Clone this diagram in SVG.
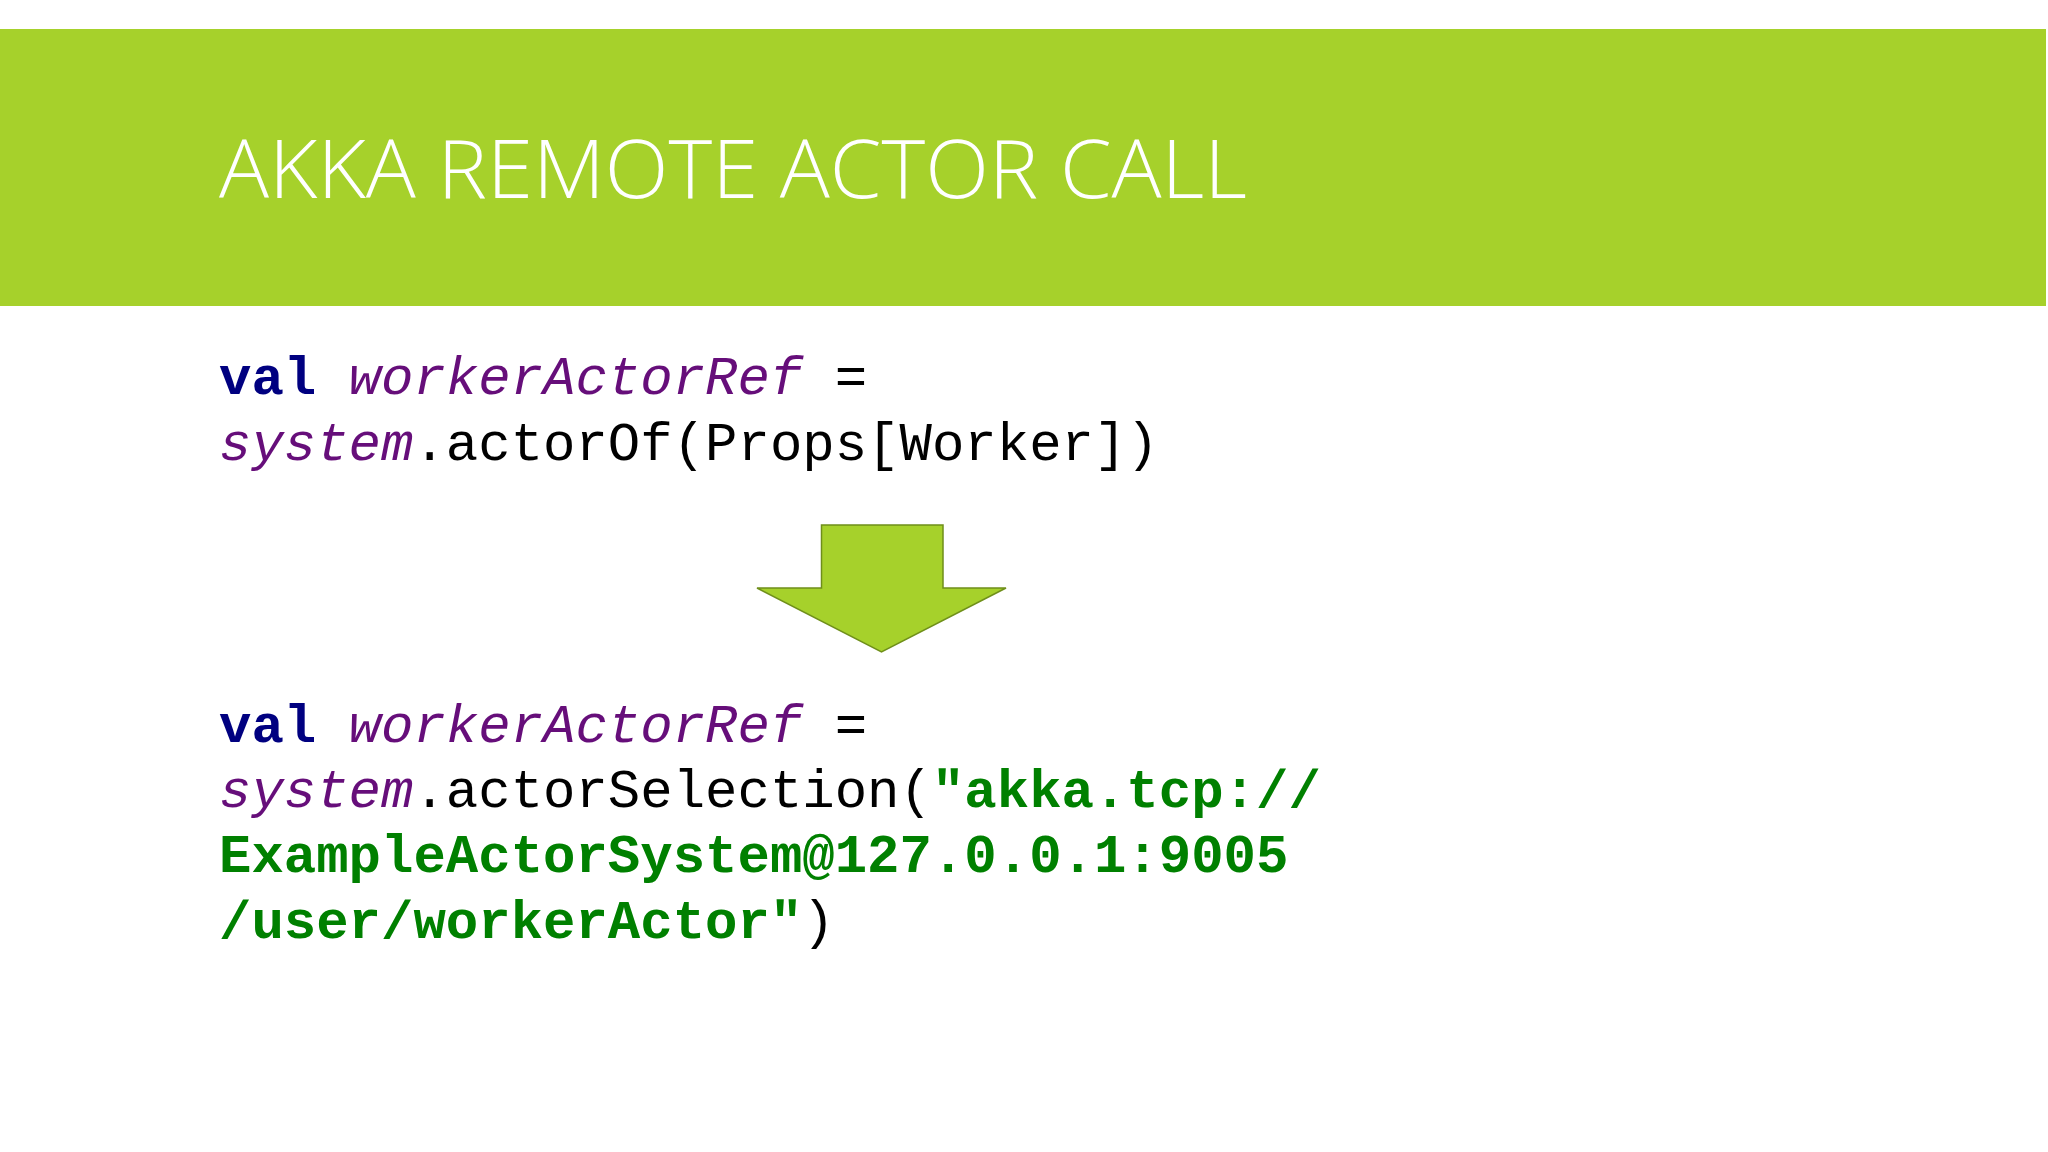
<svg xmlns="http://www.w3.org/2000/svg" width="2048" height="1152" viewBox="0 0 2048 1152" xml:space="preserve">
<style>
.code{font-family:"Liberation Mono","DejaVu Sans Mono",monospace;font-size:54px;fill:#000}
.kw{fill:#000080;font-weight:bold}
.it{fill:#660e7a;font-style:italic}
.str{fill:#008000;font-weight:bold}
</style>
<rect x="0" y="0" width="2048" height="1152" fill="#fff"/>
<g id="header">
<rect x="0" y="29" width="2046" height="277" fill="#a6d12b"/>
<text x="219" y="198" font-family="'Open Sans','Liberation Sans',sans-serif" font-weight="300" font-size="82" fill="#fff" textLength="1028" lengthAdjust="spacingAndGlyphs">AKKA REMOTE ACTOR CALL</text>
</g>
<g id="code1">
<text class="code" x="219" y="394"><tspan class="kw">val</tspan> <tspan class="it">workerActorRef</tspan> =</text>
<text class="code" x="219" y="460"><tspan class="it">system</tspan>.actorOf(Props[Worker])</text>
</g>
<g id="arrow">
<polygon points="821.5,525 943,525 943,588 1006,588 881.5,652 757,588 821.5,588" fill="#a6d12b" stroke="#6f8f1a" stroke-width="1.5"/>
</g>
<g id="code2">
<text class="code" x="219" y="742"><tspan class="kw">val</tspan> <tspan class="it">workerActorRef</tspan> =</text>
<text class="code" x="219" y="807"><tspan class="it">system</tspan>.actorSelection(<tspan class="str">"akka.tcp://</tspan></text>
<text class="code str" x="219" y="872">ExampleActorSystem@127.0.0.1:9005</text>
<text class="code" x="219" y="938"><tspan class="str">/user/workerActor"</tspan>)</text>
</g>
</svg>
